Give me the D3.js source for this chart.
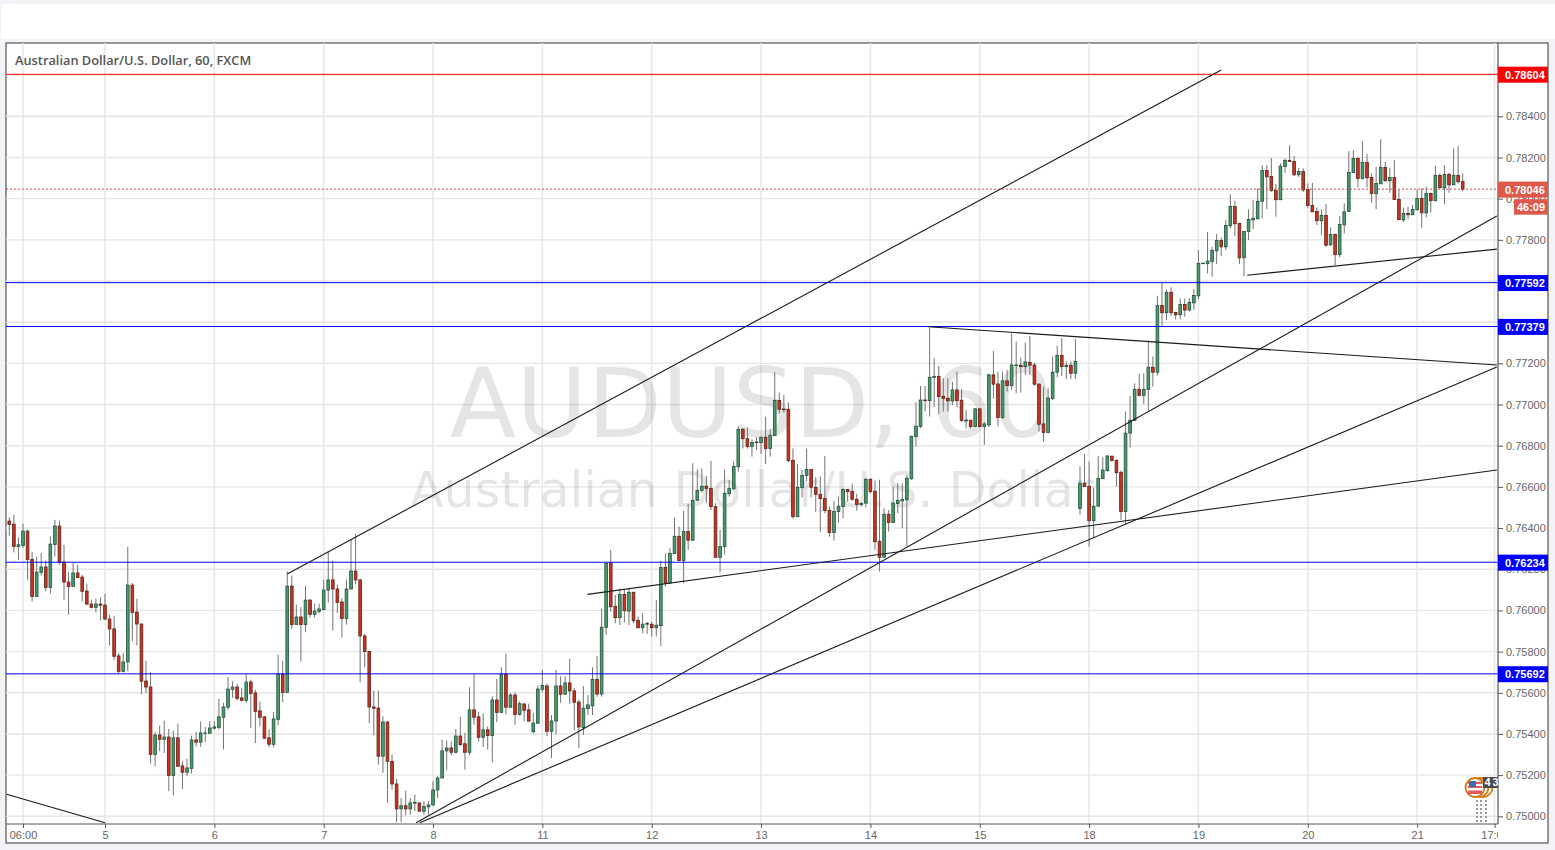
<!DOCTYPE html>
<html>
<head>
<meta charset="utf-8">
<script src="https://cdn.jsdelivr.net/npm/d3@7"></script>
<style>
  html, body { margin: 0; padding: 0; background: #f1f3f6; overflow: hidden; }
  svg { display: block; }
</style>
</head>
<body>
<div id="chart"></div>
<script>
// hourly candles, in 1/100000 of a dollar
const opens = [76434,76419,76311,76316,76385,76248,76068,76185,76211,76112,76321,76410,76235,76138,76117,76182,76162,76094,76031,76015,
76031,76026,75958,75910,75779,75704,75750,76123,75992,75934,75657,75628,75301,75395,75374,75385,75199,75381,75245,75214,
75233,75371,75360,75402,75403,75428,75432,75481,75530,75617,75628,75575,75563,75652,75599,75512,75483,75381,75350,75471,
75691,75602,76118,75932,75968,75932,76050,75981,75995,76005,76099,76148,76104,76041,75961,76104,76191,76148,75876,75801,
75531,75526,75292,75458,75267,75157,75036,75051,75036,75064,75065,75025,75046,75055,75128,75186,75318,75332,75311,75390,
75352,75311,75517,75483,75384,75420,75392,75565,75505,75691,75530,75589,75495,75546,75517,75411,75452,75617,75633,75413,
75463,75633,75593,75648,75609,75555,75431,75523,75537,75665,75594,75918,76232,76020,75965,76078,75997,76088,75952,75916,
75933,75933,75916,75926,76209,76133,76276,76360,76242,76384,76341,76535,76583,76603,76593,76504,76258,76310,76567,76591,
76698,76880,76834,76796,76818,76815,76841,76786,76849,77020,76978,76977,76729,76455,76596,76655,76685,76598,76564,76543,
76486,76378,76480,76504,76588,76579,76540,76514,76521,76637,76579,76336,76258,76467,76427,76519,76532,76537,76640,76844,
76893,77022,77019,77131,77137,77040,77030,77018,77071,77021,76920,76924,76893,76979,76893,76901,77144,77100,76937,77115,
77092,77189,77191,77184,77205,77192,77099,76906,76864,77029,77157,77239,77184,77191,77152,76495,76618,76603,76436,76506,
76640,76679,76749,76729,76671,76480,76861,76922,77074,77045,77074,77181,77157,77481,77446,77545,77447,77436,77486,77459,
77494,77528,77684,77684,77695,77747,77797,77766,77868,77962,77880,77713,77841,77897,77902,77987,78137,78108,78040,77995,
78156,78186,78181,78116,78132,78045,77967,77938,77893,77919,77776,77826,77728,77873,77938,78126,78195,78098,78176,78103,
78024,78072,78152,78087,78103,77996,77897,77928,77922,77946,78001,77931,78025,77990,78113,78053,78118,78067,78113,78084];

const highs = [76453,76465,76355,76421,76392,76283,76262,76279,76243,76359,76440,76436,76319,76186,76233,76222,76173,76130,76052,76057,
76063,76081,75979,75974,75793,75793,76309,76133,76057,75936,75756,75701,75410,75440,75465,75424,75416,75450,75267,75280,
75392,75410,75460,75434,75462,75462,75570,75551,75677,75656,75643,75623,75691,75664,75615,75557,75486,75421,75507,75785,
75756,76190,76169,76028,76016,76120,76055,76033,76033,76149,76287,76241,76125,76060,76149,76347,76371,76154,75887,75803,
75610,75610,75486,75462,75300,75182,75089,75125,75089,75105,75065,75073,75073,75170,75195,75373,75369,75364,75424,75483,
75405,75627,75691,75507,75499,75437,75583,75667,75724,75790,75599,75602,75559,75547,75547,75502,75635,75712,75644,75492,
75712,75680,75680,75766,75623,75567,75633,75589,75724,75779,76010,76229,76294,76075,76107,76099,76107,76091,75970,75986,
75945,75945,76051,76242,76277,76302,76452,76407,76483,76517,76715,76685,76690,76653,76726,76520,76391,76685,76634,76723,
76896,76885,76889,76831,76841,76844,76941,76881,77157,77059,77046,77011,76787,76710,76682,76787,76685,76647,76650,76750,
76504,76532,76553,76593,76588,76617,76566,76523,76642,76642,76631,76634,76496,76488,76601,76618,76618,76658,76848,77011,
77090,77090,77371,77225,77187,77128,77128,77111,77160,77074,76974,76925,76982,76982,76917,77149,77260,77160,77160,77168,
77346,77306,77228,77301,77333,77201,77103,77087,77079,77233,77285,77322,77209,77209,77317,76699,76760,76723,76597,76750,
76744,76755,76752,76734,76679,76966,77042,77103,77149,77152,77311,77233,77527,77591,77559,77569,77451,77515,77515,77515,
77562,77750,77688,77838,77766,77828,77812,77896,78021,77990,77880,77842,77948,77993,78050,78163,78163,78197,78071,78171,
78195,78260,78207,78150,78147,78074,78077,77957,77948,77974,77860,77831,77915,77977,78231,78236,78203,78280,78216,78123,
78155,78289,78179,78150,78187,78042,77957,77961,77969,78045,78050,78058,78029,78160,78123,78163,78126,78244,78255,78123];

const lows = [76362,76282,76246,76303,76149,76044,76068,76169,76093,76081,76262,76222,76052,75979,76114,76157,76044,76026,76010,75990,
75952,75955,75830,75758,75693,75699,75704,75850,75830,75593,75599,75256,75243,75316,75308,75122,75102,75243,75133,75195,
75208,75339,75337,75360,75405,75421,75421,75324,75518,75575,75562,75559,75551,75429,75356,75437,75377,75335,75335,75442,
75554,75602,75911,75931,75751,75894,75965,75965,75986,76000,76039,75903,75987,75869,75931,76104,76127,75651,75724,75453,
75394,75251,75211,75065,75130,74971,74971,75005,75008,75025,75023,75008,75008,75052,75089,75185,75224,75295,75305,75340,
75227,75296,75445,75363,75337,75324,75262,75457,75502,75494,75526,75445,75489,75462,75462,75402,75450,75602,75389,75282,
75397,75551,75591,75547,75418,75332,75395,75492,75492,75581,75581,75881,75994,75937,75929,75941,75929,75937,75913,75889,
75886,75873,75873,75827,76115,76132,76274,76239,76132,76294,76339,76533,76572,76523,76488,76258,76183,76271,76553,76585,
76674,76787,76786,76747,76779,76760,76711,76747,76849,76957,76961,76721,76447,76455,76549,76630,76549,76477,76381,76472,
76358,76339,76426,76447,76528,76533,76485,76504,76501,76569,76294,76189,76258,76383,76424,76472,76399,76313,76634,76796,
76885,76966,76942,76987,76954,76966,76966,76998,76987,76917,76883,76883,76890,76890,76804,76890,77029,76893,76930,77063,
77071,77055,77058,77144,77144,77092,76869,76820,76860,77022,77132,77139,77124,77124,77124,76464,76602,76310,76351,76504,
76640,76674,76723,76602,76440,76420,76791,76922,77039,77003,76971,77087,77140,77378,77410,77431,77413,77413,77426,77451,
77459,77512,77684,77637,77621,77682,77721,77750,77855,77818,77682,77624,77799,77851,77901,77904,77949,78033,77912,77993,
78126,78179,78110,78106,78033,77957,77936,77872,77823,77766,77771,77677,77715,77831,77936,78126,78055,78093,78055,77980,
77949,78074,78082,78029,77996,77896,77886,77899,77920,77944,77859,77909,77931,77988,78050,77974,78029,78066,78074,78037];

const closes = [76418,76311,76319,76385,76248,76068,76186,76211,76112,76322,76410,76232,76138,76117,76182,76160,76093,76031,76015,76031,
76025,75958,75910,75777,75704,75750,76123,75991,75934,75656,75628,75301,75395,75374,75385,75199,75381,75243,75214,75235,
75371,75360,75405,75405,75429,75434,75483,75531,75618,75628,75572,75563,75652,75597,75510,75481,75379,75350,75473,75691,
75602,76118,75932,75968,75932,76050,75981,75997,76007,76099,76148,76104,76039,75961,76104,76191,76148,75876,75801,75531,
75525,75292,75458,75267,75157,75036,75051,75036,75065,75067,75025,75047,75055,75128,75186,75318,75332,75311,75390,75348,
75311,75517,75481,75384,75420,75392,75565,75505,75691,75530,75589,75495,75547,75515,75462,75453,75618,75635,75413,75463,
75633,75593,75648,75609,75554,75434,75525,75541,75665,75594,75918,76229,76018,75965,76078,75999,76088,75950,75916,75933,
75936,75916,75928,76209,76133,76277,76360,76242,76384,76341,76535,76583,76603,76593,76504,76258,76311,76569,76593,76700,
76880,76834,76796,76816,76815,76841,76786,76851,77020,76977,76975,76727,76455,76598,76656,76685,76598,76564,76543,76485,
76378,76481,76506,76588,76577,76540,76514,76520,76637,76577,76334,76258,76467,76427,76521,76535,76538,76642,76846,76895,
77022,77019,77132,77137,77039,77029,77018,77071,77019,76922,76925,76893,76979,76893,76906,77144,77099,76937,77115,77092,
77192,77192,77184,77207,77191,77099,76904,76864,77032,77157,77239,77184,77191,77152,77210,76618,76602,76436,76506,76642,
76682,76750,76728,76669,76480,76861,76924,77074,77045,77074,77181,77157,77481,77446,77545,77446,77436,77486,77459,77496,
77530,77685,77687,77697,77749,77797,77766,77870,77962,77878,77713,77841,77899,77904,77987,78137,78106,78040,77995,78158,
78186,78181,78116,78132,78042,77967,77936,77893,77919,77774,77826,77728,77875,77936,78127,78195,78098,78176,78101,78025,
78074,78152,78087,78103,77996,77899,77928,77922,77948,78001,77931,78025,77990,78113,78053,78118,78067,78113,78082,78046];

const priceTicks = [0.75,0.752,0.754,0.756,0.758,0.76,0.762,0.764,0.766,0.768,0.77,0.772,0.774,0.776,0.778,0.78,0.782,0.784,0.786];
// these sit fully behind a price tag in the picture
const hiddenPriceLabels = [0.774,0.776,0.786];

// bar number of each time label
const timeTickBars = [3,21,45,69,93,117,141,165,189,213,237,261,285,309,326];
const timeTickLabels = ["06:00","5","6","7","8","11","12","13","14","15","18","19","20","21","17:00"];

const levelPrices = [0.78604,0.77592,0.77379,0.76234,0.75692];
const levelColors = ["#ff0000","#0000ff","#0000ff","#0000ff","#0000ff"];
const lastPrice = 0.78046;
const countdown = "46:09";

// drawn trend lines: bar, price, bar, price
const trendLines = [
    [61,0.76177,266,0.78625],
    [-0.6,0.75107,21,0.74969],
    [271.7,0.77628,326.5,0.77755],
    [126.9,0.76078,326.5,0.76682],
    [201.7,0.77378,326.5,0.77192],
    [89.3,0.74969,326.5,0.77916],
    [90.1,0.74969,326.5,0.77182]
];

const title = "Australian Dollar/U.S. Dollar, 60, FXCM";
const watermarkSymbol = "AUDUSD, 60";
const watermarkName = "Australian Dollar/U.S. Dollar";

const W = 1555, H = 850;
const plot = {left: 6, top: 43, right: 1498, bottom: 824, outer: 1548, frameBottom: 843};

const svg = d3.select("#chart").append("svg").attr("width", W).attr("height", H);

const x = d3.scaleLinear().domain([0, 319]).range([9.33, 9.33 + 319 * 4.556]);
const y = d3.scaleLinear().domain([0.75, 0.784]).range([816.3, 116.3]);

// page parts
svg.append("rect").attr("x", 1).attr("y", 4).attr("width", W - 1).attr("height", 35).attr("fill", "#fff");
svg.append("rect")
    .attr("x", plot.left).attr("y", plot.top)
    .attr("width", plot.outer - plot.left).attr("height", plot.frameBottom - plot.top)
    .attr("fill", "#fff").attr("stroke", "#555").attr("stroke-width", 1.2);

svg.append("clipPath").attr("id", "plot-clip").append("rect")
    .attr("x", plot.left).attr("y", plot.top)
    .attr("width", plot.right - plot.left).attr("height", plot.bottom - plot.top);

const inner = svg.append("g").attr("clip-path", "url(#plot-clip)");

// grid
inner.append("g").selectAll("line").data(priceTicks).join("line")
    .attr("x1", plot.left).attr("x2", plot.right)
    .attr("y1", d => y(d)).attr("y2", d => y(d))
    .attr("stroke", "#e6e6e6").attr("stroke-width", 1.4);
inner.append("g").selectAll("line").data(timeTickBars).join("line")
    .attr("x1", d => x(d)).attr("x2", d => x(d))
    .attr("y1", plot.top).attr("y2", plot.bottom)
    .attr("stroke", "#e6e6e6").attr("stroke-width", 1.4);

// watermark
const midX = (plot.left + plot.right) / 2;
inner.append("text").attr("x", midX).attr("y", 437)
    .attr("text-anchor", "middle")
    .style("font-family", "'DejaVu Sans'").style("font-size", "97px")
    .attr("fill", "#000").attr("fill-opacity", 0.1)
    .text(watermarkSymbol);
inner.append("text").attr("x", midX).attr("y", 507)
    .attr("text-anchor", "middle")
    .style("font-family", "'DejaVu Sans'").style("font-size", "49px")
    .attr("fill", "#000").attr("fill-opacity", 0.1)
    .text(watermarkName);

// candles
const bars = opens.map((o, i) => ({i: i, o: o / 1e5, h: highs[i] / 1e5, l: lows[i] / 1e5, c: closes[i] / 1e5}));

inner.append("g").selectAll("line").data(bars).join("line")
    .attr("x1", d => x(d.i)).attr("x2", d => x(d.i))
    .attr("y1", d => y(d.h)).attr("y2", d => y(d.l))
    .attr("stroke", "#737373").attr("stroke-width", 1);

inner.append("g").selectAll("rect").data(bars).join("rect")
    .attr("x", d => x(d.i) - 1.35)
    .attr("width", 2.7)
    .attr("y", d => y(Math.max(d.o, d.c)))
    .attr("height", d => Math.max(Math.abs(y(d.o) - y(d.c)), 0.6))
    .attr("fill", d => d.c >= d.o ? "#4c9a70" : "#cc3322")
    .attr("stroke", d => d.c >= d.o ? "#1f5238" : "#5f2015")
    .attr("stroke-width", 0.8);

// last price line
inner.append("line")
    .attr("x1", plot.left).attr("x2", plot.right)
    .attr("y1", y(lastPrice)).attr("y2", y(lastPrice))
    .attr("stroke", "#c0503f").attr("stroke-width", 1).attr("stroke-dasharray", "2,2");

// horizontal levels
inner.append("g").selectAll("line").data(levelPrices).join("line")
    .attr("x1", plot.left).attr("x2", plot.right)
    .attr("y1", d => y(d)).attr("y2", d => y(d))
    .attr("stroke", (d, i) => levelColors[i]).attr("stroke-width", 1);

// trend lines
inner.append("g").selectAll("line").data(trendLines).join("line")
    .attr("x1", d => x(d[0])).attr("y1", d => y(d[1]))
    .attr("x2", d => x(d[2])).attr("y2", d => y(d[3]))
    .attr("stroke", "#1a1a1a").attr("stroke-width", 1.1);

// title
svg.append("text").attr("x", 15).attr("y", 65)
    .style("font-family", "'Open Sans'").style("font-size", "12.8px").style("font-weight", 600)
    .attr("fill", "#555").text(title);

// axes
const yAxis = d3.axisRight(y).tickValues(priceTicks)
    .tickFormat(d => hiddenPriceLabels.includes(d) ? "" : d3.format(".5f")(d))
    .tickSize(5).tickPadding(3);
const yG = svg.append("g").attr("transform", `translate(${plot.right},0)`).call(yAxis);
yG.select(".domain").remove();
svg.append("line").attr("x1", plot.right).attr("x2", plot.right).attr("y1", plot.top).attr("y2", plot.bottom)
    .attr("stroke", "#555").attr("stroke-width", 1.2);

svg.append("clipPath").attr("id", "xaxis-clip").append("rect")
    .attr("x", plot.left).attr("y", plot.bottom).attr("width", plot.right - plot.left).attr("height", 19);
const xAxis = d3.axisBottom(x).tickValues(timeTickBars)
    .tickFormat(d => timeTickLabels[timeTickBars.indexOf(d)]).tickSize(4).tickPadding(3);
const xG = svg.append("g").attr("clip-path", "url(#xaxis-clip)")
    .append("g").attr("transform", `translate(0,${plot.bottom})`).call(xAxis);
xG.select(".domain").remove();
svg.append("line").attr("x1", plot.left).attr("x2", plot.right).attr("y1", plot.bottom).attr("y2", plot.bottom)
    .attr("stroke", "#555").attr("stroke-width", 1.2);

[yG, xG].forEach(g => {
    g.selectAll("text").attr("fill", "#666").style("font-family", "'Liberation Sans'").style("font-size", "11px");
    g.selectAll("line").attr("stroke", "#555");
});

// price tags on the axis
const tagW = plot.outer - plot.right;
function priceTag(price, color) {
    svg.append("rect").attr("x", plot.right).attr("y", y(price) - 7.6).attr("width", tagW).attr("height", 16).attr("fill", color);
    svg.append("text").attr("x", plot.right + 7).attr("y", y(price) + 4.4)
        .style("font-family", "'Liberation Sans'").style("font-size", "11px").style("font-weight", "bold")
        .attr("fill", "#fff").text(price.toFixed(5));
}
levelPrices.forEach((p, i) => priceTag(p, levelColors[i]));
priceTag(lastPrice, "#dd5a4a");
svg.append("rect").attr("x", 1514).attr("y", y(lastPrice) + 10).attr("width", 34).attr("height", 15.5).attr("fill", "#dd5a4a");
svg.append("text").attr("x", 1531).attr("y", y(lastPrice) + 21.8).attr("text-anchor", "middle")
    .style("font-family", "'Liberation Sans'").style("font-size", "11px").style("font-weight", "bold")
    .attr("fill", "#fff").text(countdown);

// news markers in the corner
const news = svg.append("g").attr("clip-path", "url(#plot-clip)");
const newsX = [1486, 1481, 1477];
news.selectAll("line").data(newsX).join("line")
    .attr("x1", d => d).attr("x2", d => d).attr("y1", 800).attr("y2", 823)
    .attr("stroke", "#999").attr("stroke-width", 2).attr("stroke-dasharray", "2,2");
[1483, 1479, 1475].forEach(cx => {
    news.append("circle").attr("cx", cx).attr("cy", 787.5).attr("r", 9.5)
        .attr("fill", "#fff").attr("stroke", "#d07a10").attr("stroke-width", 1.8);
});
[[782, 2], [786, 2], [790.5, 3.5]].forEach(s => {
    news.append("rect").attr("x", 1468).attr("y", s[0]).attr("width", 14).attr("height", s[1]).attr("fill", "#e9565a");
});
news.append("rect").attr("x", 1469).attr("y", 781).attr("width", 7).attr("height", 6).attr("fill", "#3f6db5");
[[1483, "4"], [1491, "3"]].forEach(b => {
    news.append("rect").attr("x", b[0]).attr("y", 777).attr("width", 8).attr("height", 11).attr("fill", "#4a4a4a");
    news.append("text").attr("x", b[0] + 1.5).attr("y", 786)
        .style("font-family", "'Liberation Sans'").style("font-size", "11px").style("font-weight", "bold")
        .attr("fill", "#fff").text(b[1]);
});
</script>
</body>
</html>
